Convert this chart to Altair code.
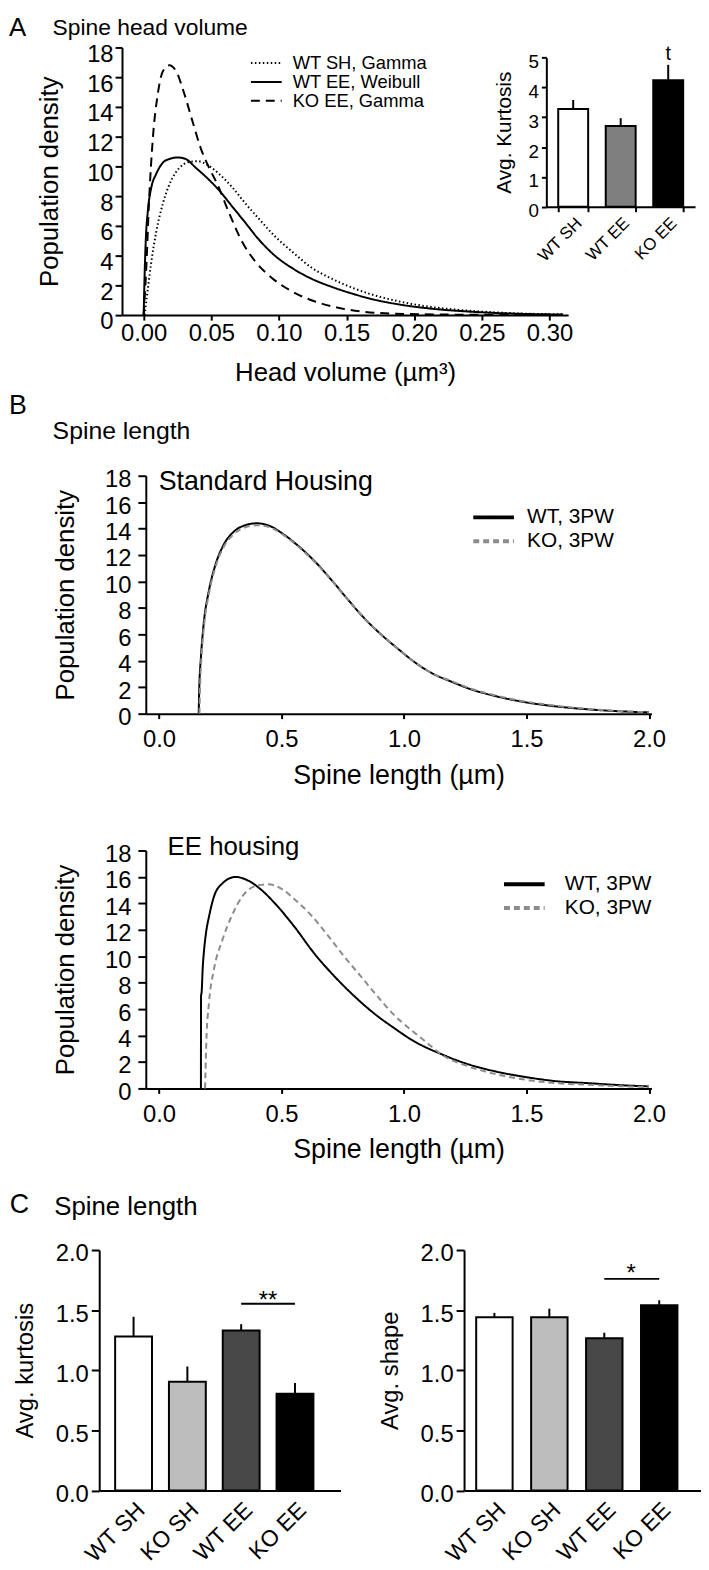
import altair as alt
import pandas as pd

FONT = "Liberation Sans"

# ---------------- Panel A : spine head volume ----------------
a_series = ["WT SH, Gamma", "WT EE, Weibull", "KO EE, Gamma"]
a_wtsh_x = [0.0007, 0.0032, 0.0057, 0.0093, 0.0142, 0.0203, 0.0264, 0.0337, 0.0398, 0.0472,
            0.0557, 0.0655, 0.0753, 0.085, 0.097, 0.11, 0.124, 0.139, 0.154, 0.17,
            0.19, 0.21, 0.24, 0.27, 0.31]
a_wtsh_y = [0, 1.85, 3.6, 5.6, 7.5, 9.05, 9.9, 10.3, 10.35, 10.1,
            9.5, 8.6, 7.5, 6.5, 5.3, 4.25, 3.2, 2.45, 1.85, 1.35,
            0.9, 0.58, 0.3, 0.14, 0.05]
a_wtee_x = [0, 0.0008, 0.0015, 0.0032, 0.0057, 0.0093, 0.0142, 0.019, 0.025, 0.031,
            0.0386, 0.046, 0.0557, 0.0655, 0.0753, 0.085, 0.097, 0.11, 0.124, 0.139,
            0.154, 0.17, 0.19, 0.21, 0.24, 0.27, 0.31]
a_wtee_y = [0, 3.0, 4.9, 7.1, 8.6, 9.5, 10.25, 10.5, 10.6, 10.5,
            9.9, 9.3, 8.4, 7.3, 6.2, 5.1, 4.0, 3.15, 2.45, 1.9,
            1.45, 1.05, 0.7, 0.46, 0.24, 0.11, 0.04]
a_koee_x = [0, 0.002, 0.0039, 0.0068, 0.0105, 0.0142, 0.019, 0.024, 0.030, 0.0362,
            0.0423, 0.0484, 0.0545, 0.063, 0.073, 0.0826, 0.0948, 0.1095, 0.124, 0.141,
            0.163, 0.185, 0.22, 0.26, 0.31]
a_koee_y = [0, 3.3, 7.5, 11.9, 14.9, 16.4, 16.8, 16.4, 14.9, 13.0,
            11.2, 9.9, 8.8, 6.9, 4.9, 3.6, 2.5, 1.6, 1.0, 0.55,
            0.22, 0.1, 0.04, 0.015, 0.0]
a_x_ticks = [0, 0.05, 0.10, 0.15, 0.20, 0.25, 0.30]
a_y_ticks = [0, 2, 4, 6, 8, 10, 12, 14, 16, 18]

a_inset_groups = ["WT SH", "WT EE", "KO EE"]
a_inset_kurtosis = [3.28, 2.71, 4.24]
a_inset_sem = [0.30, 0.26, 0.52]
a_inset_fill = ["#ffffff", "#7f7f7f", "#000000"]
a_inset_mark_group = ["KO EE"]
a_inset_mark_text = ["t"]
a_inset_mark_y = [4.91]
a_inset_ticks = [0, 1, 2, 3, 4, 5]

# ---------------- Panel B : spine length densities ----------------
b_series = ["WT, 3PW", "KO, 3PW"]
b_x_ticks = [0, 0.5, 1.0, 1.5, 2.0]
b_y_ticks = [0, 2, 4, 6, 8, 10, 12, 14, 16, 18]

b_sh_wt_x = [0.162, 0.164, 0.171, 0.182, 0.203, 0.23, 0.263, 0.304, 0.351, 0.399,
             0.452, 0.506, 0.574, 0.642, 0.709, 0.777, 0.844, 0.912, 0.979, 1.047,
             1.115, 1.196, 1.28, 1.38, 1.5, 1.62, 1.75, 1.88, 2.0]
b_sh_wt_y = [0, 1.75, 4.25, 6.75, 9.25, 11.25, 12.75, 13.75, 14.25, 14.4,
             14.2, 13.6, 12.6, 11.4, 10.0, 8.5, 7.1, 5.9, 4.85, 3.85,
             3.05, 2.4, 1.8, 1.3, 0.85, 0.55, 0.33, 0.18, 0.1]
b_sh_ko_x = [0.165, 0.167, 0.173, 0.184, 0.205, 0.232, 0.265, 0.306, 0.352, 0.401,
             0.452, 0.506, 0.574, 0.642, 0.709, 0.777, 0.844, 0.912, 0.979, 1.047,
             1.115, 1.196, 1.28, 1.38, 1.5, 1.62, 1.75, 1.88, 2.0]
b_sh_ko_y = [0, 1.7, 4.2, 6.7, 9.2, 11.2, 12.65, 13.6, 14.1, 14.25,
             14.1, 13.55, 12.55, 11.35, 10.0, 8.5, 7.1, 5.9, 4.85, 3.85,
             3.05, 2.45, 1.85, 1.35, 0.9, 0.6, 0.36, 0.2, 0.1]

b_ee_wt_x = [0.171, 0.1715, 0.174, 0.178, 0.184, 0.192, 0.204, 0.224, 0.258, 0.312,
             0.366, 0.419, 0.473, 0.554, 0.634, 0.715, 0.796, 0.876, 0.957, 1.038,
             1.158, 1.25, 1.37, 1.5, 1.62, 1.75, 1.88, 2.0]
b_ee_wt_y = [0, 7.0, 7.3, 9.0, 10.5, 11.8, 13.0, 14.5, 15.5, 16.0,
             15.7, 15.0, 14.0, 12.2, 10.2, 8.5, 7.0, 5.7, 4.6, 3.6,
             2.55, 1.9, 1.3, 0.85, 0.55, 0.4, 0.25, 0.15]
b_ee_ko_x = [0.188, 0.190, 0.193, 0.204, 0.224, 0.258, 0.298, 0.339, 0.392, 0.446,
             0.5, 0.554, 0.621, 0.688, 0.755, 0.823, 0.89, 0.957, 1.024, 1.091,
             1.158, 1.25, 1.37, 1.5, 1.62, 1.75, 1.88, 2.0]
b_ee_ko_y = [0, 1.5, 3.5, 6.5, 9.0, 11.2, 13.1, 14.5, 15.3, 15.45,
             15.1, 14.3, 13.1, 11.6, 10.0, 8.5, 7.0, 5.6, 4.5, 3.5,
             2.5, 1.75, 1.1, 0.65, 0.4, 0.28, 0.17, 0.1]

# ---------------- Panel C : spine length bar charts ----------------
c_groups = ["WT SH", "KO SH", "WT EE", "KO EE"]
c_kurtosis = [1.28, 0.905, 1.33, 0.805]
c_kurtosis_sem = [0.165, 0.126, 0.053, 0.089]
c_shape = [1.44, 1.44, 1.266, 1.54]
c_shape_sem = [0.037, 0.072, 0.046, 0.042]
c_fill = ["#ffffff", "#bdbdbd", "#484848", "#000000"]
c_y_ticks = [0, 0.5, 1.0, 1.5, 2.0]
c_kurtosis_bracket = {"group": ["WT EE"], "to": ["KO EE"], "value": [1.554]}
c_kurtosis_star = {"group": ["WT EE"], "value": [1.517], "label": ["**"]}
c_shape_bracket = {"group": ["WT EE"], "to": ["KO EE"], "value": [1.76]}
c_shape_star = {"group": ["WT EE"], "value": [1.742], "label": ["*"]}

# ---------------- text ----------------
panel_letters = ["A", "B", "C"]
panel_titles = ["Spine head volume", "Spine length", "Spine length"]
b_sub_titles = ["Standard Housing", "EE housing"]

INDEP = dict(color="independent", strokeDash="independent")


def curve(xs, ys, name):
    return pd.DataFrame({"x": xs, "y": ys, "series": name})


def note(text, x, y, size):
    return alt.Chart(pd.DataFrame({"label": [text]})).mark_text(
        align="left", baseline="middle", font=FONT, fontSize=size, color="black"
    ).encode(text="label:N", x=alt.value(x), y=alt.value(y))


def spacer(w):
    # invisible column: makes each row start at the left edge of the page
    return alt.Chart(pd.DataFrame({"v": [0]})).mark_rule(opacity=0, strokeWidth=0).encode(
        y=alt.value(0)).properties(width=w, height=1)


def flush_left(chart, w=1):
    return alt.hconcat(spacer(w), chart, spacing=0).resolve_scale(**INDEP)


# ======================= Panel A =======================
A_H = 270
a_df = pd.concat([curve(a_wtsh_x, a_wtsh_y, a_series[0]),
                  curve(a_wtee_x, a_wtee_y, a_series[1]),
                  curve(a_koee_x, a_koee_y, a_series[2])], ignore_index=True)

a_lines = alt.Chart(a_df).mark_line(interpolate="monotone", strokeWidth=2, color="black").encode(
    x=alt.X("x:Q", scale=alt.Scale(domain=[-0.016, 0.3138], nice=False, zero=False),
            axis=alt.Axis(values=a_x_ticks, format=".2f", title="Head volume (µm³)",
                          labelFontSize=24, titleFontSize=26, tickSize=5, labelPadding=2,
                          titlePadding=14)),
    y=alt.Y("y:Q", scale=alt.Scale(domain=[0, 18], nice=False),
            axis=alt.Axis(values=a_y_ticks, title="Population density", labelFontSize=24,
                          titleFontSize=26, tickSize=7, labelPadding=2, titlePadding=24,
                          labelOffset=7)),
    strokeDash=alt.StrokeDash("series:N",
                              scale=alt.Scale(domain=a_series, range=[[1.5, 2.5], [1, 0], [9, 6]]),
                              legend=alt.Legend(title=None, orient="none", legendX=136.3, legendY=6.5,
                                                symbolType="M-2.5,0L2.5,0", symbolSize=154,
                                                symbolStrokeWidth=2, symbolStrokeColor="black",
                                                symbolFillColor="transparent",
                                                labelFontSize=18.5, labelOffset=17.3, rowPadding=0,
                                                padding=0)),
)
a_main = alt.layer(a_lines, note(panel_letters[0], -114, -20, 26), note(panel_titles[0], -70, -20, 23))

ins_df = pd.DataFrame({"group": a_inset_groups, "value": a_inset_kurtosis,
                       "upper": [v + e for v, e in zip(a_inset_kurtosis, a_inset_sem)],
                       "fill": a_inset_fill})
ins_bottom, ins_top = 160.7, 10.3
ins_x_scale = alt.Scale(domain=a_inset_groups, range=[428, 578], paddingInner=0.37, paddingOuter=0.25)
ins_y_scale = alt.Scale(domain=[0, 5], range=[ins_bottom, ins_top], nice=False)
ins_x_axis = alt.Axis(orient="bottom", offset=-(A_H - ins_bottom), title=None, labelAngle=315,
                      labelAlign="right", labelBaseline="top", labelFontSize=17,
                      labelPadding=3, tickSize=5, tickBand="extent")
ins_y_axis = alt.Axis(orient="left", offset=-428, values=a_inset_ticks, title="Avg. Kurtosis",
                      titleFontSize=21, labelFontSize=19, tickSize=5, labelPadding=3,
                      titlePadding=14, labelOffset=4)
ins_x = alt.X("group:N", sort=a_inset_groups, scale=ins_x_scale, axis=ins_x_axis)
ins_y = alt.Y("value:Q", scale=ins_y_scale, axis=ins_y_axis)
ins_bars = alt.Chart(ins_df).mark_bar(stroke="black", strokeWidth=2).encode(
    x=ins_x, y=ins_y, fill=alt.Fill("fill:N", scale=None))
ins_err = alt.Chart(ins_df).mark_rule(color="black", strokeWidth=2).encode(
    x=ins_x, y=ins_y, y2="upper:Q")
ins_mark = alt.Chart(pd.DataFrame({"group": a_inset_mark_group, "value": a_inset_mark_y,
                                   "label": a_inset_mark_text})).mark_text(
    font=FONT, fontSize=20, baseline="alphabetic", color="black").encode(
    x=ins_x, y=ins_y, text="label:N")
a_inset = alt.layer(ins_bars, ins_err, ins_mark)

row_a = alt.layer(a_main, a_inset).resolve_scale(x="independent", y="independent").properties(
    width=450, height=A_H)


# ======================= Panel B =======================
def b_panel(wt_x, wt_y, ko_x, ko_y, legend_x, legend_y, label_offset, notes):
    leg = alt.Legend(title=None, orient="none", legendX=legend_x, legendY=legend_y,
                     symbolType="M-2.5,0L2.5,0", symbolSize=269, symbolStrokeWidth=4,
                     symbolFillColor="transparent", labelFontSize=21, labelOffset=label_offset,
                     rowPadding=2, padding=0)
    color = alt.Color("series:N", scale=alt.Scale(domain=b_series, range=["#000000", "#8c8c8c"]), legend=leg)
    dash = alt.StrokeDash("series:N", scale=alt.Scale(domain=b_series, range=[[1, 0], [6, 4]]), legend=leg)
    x = alt.X("x:Q", scale=alt.Scale(domain=[-0.054, 2.01], nice=False, zero=False),
              axis=alt.Axis(values=b_x_ticks, format=".1f", title="Spine length (µm)",
                            labelFontSize=24, titleFontSize=27, tickSize=5, labelPadding=9,
                            titlePadding=11))
    y = alt.Y("y:Q", scale=alt.Scale(domain=[0, 18], nice=False),
              axis=alt.Axis(values=b_y_ticks, title="Population density", labelFontSize=24,
                            titleFontSize=26, tickSize=8, labelPadding=7, titlePadding=26,
                            labelOffset=4))
    wt = alt.Chart(curve(wt_x, wt_y, b_series[0])).mark_line(interpolate="monotone", strokeWidth=2).encode(
        x=x, y=y, color=color, strokeDash=dash)
    ko = alt.Chart(curve(ko_x, ko_y, b_series[1])).mark_line(interpolate="monotone", strokeWidth=2).encode(
        x=x, y=y, color=color, strokeDash=dash)
    return alt.layer(wt, ko, *notes).properties(width=510, height=240)


b_top = b_panel(b_sh_wt_x, b_sh_wt_y, b_sh_ko_x, b_sh_ko_y, 340.3, 31.5, 23.3,
                [note(panel_letters[1], -138, -70, 27), note(panel_titles[1], -94, -45, 25),
                 note(b_sub_titles[0], 13, 6, 27)])
b_bottom = b_panel(b_ee_wt_x, b_ee_wt_y, b_ee_ko_x, b_ee_ko_y, 371.3, 23.5, 30.3,
                   [note(b_sub_titles[1], 22, -3, 26)])
row_b = alt.vconcat(b_top, b_bottom, spacing=47).resolve_scale(**INDEP)


# ======================= Panel C =======================
def c_panel(values, sems, ytitle, bracket, star, width, p_inner, p_outer, align, notes):
    df = pd.DataFrame({"group": c_groups, "value": values,
                       "upper": [v + e for v, e in zip(values, sems)], "fill": c_fill})
    xs = alt.Scale(domain=c_groups, paddingInner=p_inner, paddingOuter=p_outer, align=align)
    ys = alt.Scale(domain=[0, 2], nice=False)
    x_axis = alt.Axis(title=None, labelAngle=315, labelAlign="right", labelBaseline="top",
                      labelFontSize=23, labelPadding=8, tickSize=0)
    y_axis = alt.Axis(values=c_y_ticks, format=".1f", title=ytitle, labelFontSize=24,
                      titleFontSize=24, tickSize=8, labelPadding=3, titlePadding=18,
                      labelOffset=4)
    x = alt.X("group:N", sort=c_groups, scale=xs, axis=x_axis)
    y = alt.Y("value:Q", scale=ys, axis=y_axis)
    bars = alt.Chart(df).mark_bar(stroke="black", strokeWidth=2).encode(
        x=x, y=y, fill=alt.Fill("fill:N", scale=None))
    err = alt.Chart(df).mark_rule(color="black", strokeWidth=2).encode(x=x, y=y, y2="upper:Q")
    br = alt.Chart(pd.DataFrame(bracket)).mark_rule(color="black", strokeWidth=2).encode(
        x=alt.X("group:N", sort=c_groups, scale=xs, axis=x_axis, bandPosition=0.5),
        x2=alt.X2("to:N", bandPosition=0.5), y=y)
    st = alt.Chart(pd.DataFrame(star)).mark_text(
        font=FONT, fontSize=24, baseline="alphabetic", color="black", dx=27).encode(
        x=x, y=y, text="label:N")
    return alt.layer(bars, err, br, st, *notes).properties(width=width, height=242.5)


c_left = c_panel(c_kurtosis, c_kurtosis_sem, "Avg. kurtosis", c_kurtosis_bracket, c_kurtosis_star,
                 243.4, 0.315, 0.4, 0.37,
                 [note(panel_letters[2], -90.3, -45, 27), note(panel_titles[2], -45.3, -43, 26)])
c_right = c_panel(c_shape, c_shape_sem, "Avg. shape", c_shape_bracket, c_shape_star,
                  239, 0.337, 0.325, 0.34, [])
row_c = alt.hconcat(c_left, c_right, spacing=37)

upper = alt.concat(flush_left(row_a), flush_left(row_b), columns=1, spacing=7,
                   align="none").resolve_scale(**INDEP)
chart = alt.concat(upper, flush_left(row_c), columns=1, spacing=29,
                   align="none").resolve_scale(**INDEP).properties(
    padding={"left": 0, "top": 0, "right": 0, "bottom": 0}, background="white")

chart = chart.configure_view(stroke=None).configure_axis(
    grid=False, domainColor="black", domainWidth=2, tickColor="black", tickWidth=2,
    labelColor="black", titleColor="black", labelFont=FONT, titleFont=FONT,
    titleFontWeight="normal",
).configure_legend(labelFont=FONT, labelColor="black")

chart.save("out.html", embed_options={"renderer": "svg", "actions": False})
